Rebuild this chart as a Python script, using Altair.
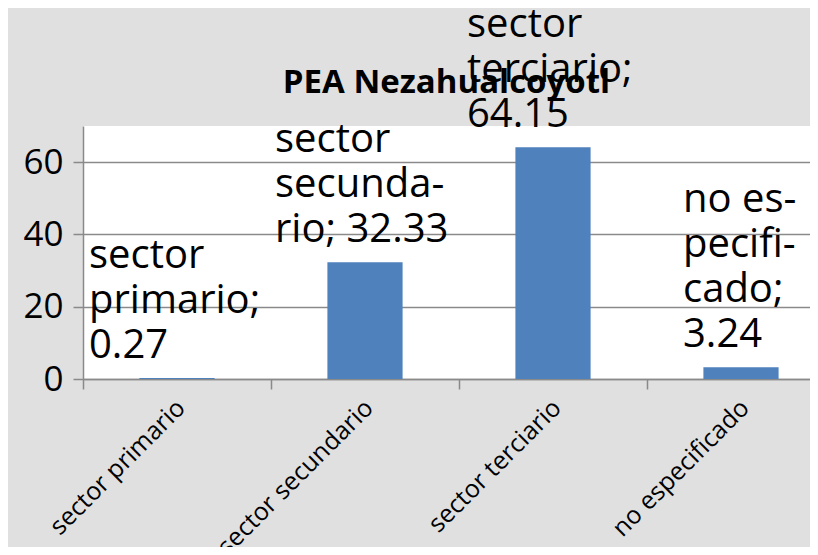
import altair as alt
import pandas as pd

# ---- data ----
categories = ["sector primario", "sector secundario", "sector terciario", "no especificado"]
values = [0.27, 32.33, 64.15, 3.24]
# Excel-style wrapped data labels ("{v}" is replaced by the value)
label_lines = [
    ["sector", "primario;", "{v}"],
    ["sector", "secunda-", "rio; {v}"],
    ["sector", "terciario;", "{v}"],
    ["no es-", "pecifi-", "cado;", "{v}"],
]
y_ticks = [0, 10, 20, 30, 40, 50, 60, 70]
chart_title = "PEA Nezahualcoyotl"

labels = ["\n".join(lines).format(v=f"{v:.2f}") for lines, v in zip(label_lines, values)]
df = pd.DataFrame({"cat": categories, "val": values, "label": labels})

FONT = "Open Sans"
GRID = "#8a8a8a"
BAR = "#4f81bd"
LINE_H = 45

x_enc = alt.X(
    "cat:N",
    sort=categories,
    scale=alt.Scale(range=[0, 752], paddingInner=0, paddingOuter=0),
    axis=alt.Axis(
        title=None,
        labelAngle=-45,
        labelFontSize=25,
        labelFont=FONT,
        labelColor="black",
        labelPadding=6,
        labelOffset=-5,
        labelLimit=0,
        tickBand="extent",
        tickSize=10,
        tickColor=GRID,
        tickWidth=1.5,
        domainColor=GRID,
        domainWidth=1.5,
        grid=False,
    ),
)
y_enc = alt.Y(
    "val:Q",
    scale=alt.Scale(domain=[0, 70], nice=False),
    axis=alt.Axis(
        title=None,
        values=y_ticks,
        labelExpr="datum.value % 20 === 0 ? datum.label : ''",
        labelFontSize=35,
        labelFont=FONT,
        labelColor="black",
        labelPadding=10,
        tickSize=10,
        tickColor=GRID,
        tickWidth=1.5,
        domainColor=GRID,
        domainWidth=1.5,
        grid=True,
        gridColor=GRID,
        gridWidth=1.5,
    ),
)

base = alt.Chart(df)
bars = base.mark_bar(color=BAR, width=alt.RelativeBandSize(0.4)).encode(x=x_enc, y=y_enc)

label_dx = [-88, -90, -86, -58]
text_layers = []
for cat, lines, dx in zip(categories, label_lines, label_dx):
    text_layers.append(
        base.transform_filter(alt.datum.cat == cat)
        .mark_text(
            align="left",
            baseline="bottom",
            dx=dx,
            dy=-12 - (len(lines) - 1) * LINE_H,
            fontSize=40,
            font=FONT,
            lineBreak="\n",
            lineHeight=LINE_H,
            color="black",
        )
        .encode(x=alt.X("cat:N", sort=categories), y="val:Q", text="label:N")
    )

chart = (
    alt.layer(bars, *text_layers)
    .properties(
        width=727,
        height=253,
        title=alt.Title(
            chart_title,
            fontSize=33,
            font=FONT,
            fontWeight="bold",
            color="black",
            anchor="middle",
            frame="group",
            baseline="alphabetic",
            offset=34,
            dy=155,
        ),
        autosize=alt.AutoSizeParams(type="none"),
        padding={"left": 75, "top": 118, "right": 0, "bottom": 168},
        background="#e0e0e0",
    )
    .configure_view(fill="white", strokeWidth=0)
)

chart.save("out.html", embed_options={"renderer": "svg", "actions": False})
